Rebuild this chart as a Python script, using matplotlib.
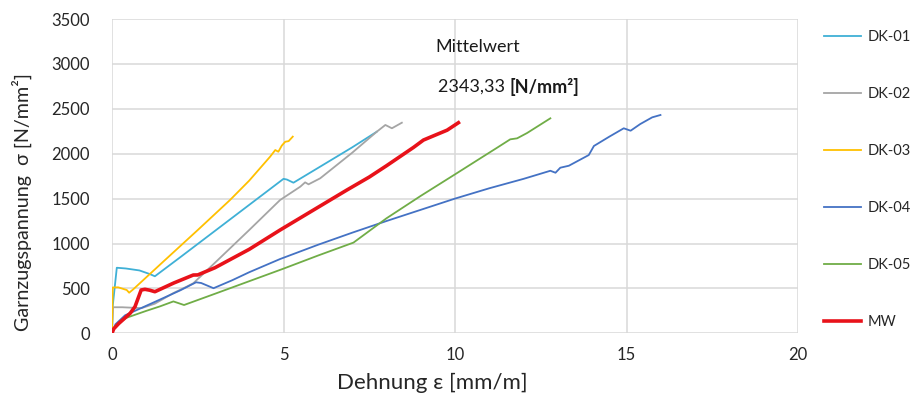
import matplotlib
matplotlib.use("Agg")
import matplotlib.pyplot as plt

plt.rcParams['font.family'] = ['Lato', 'DejaVu Sans']

dk01_x = [0, 0.02, 0.14, 0.4, 0.8, 1.1, 1.25, 2.0, 3.0, 4.0, 5.0, 5.1, 5.29, 6.0, 7.0, 7.72]
dk01_y = [0, 300, 730, 722, 700, 660, 635, 850, 1140, 1430, 1720, 1712, 1677, 1840, 2070, 2245]

dk02_x = [0, 0.03, 0.3, 0.86, 1.25, 1.8, 2.18, 2.37, 3.0, 4.0, 4.9, 5.49, 5.63, 5.73, 6.07, 7.0, 7.72, 7.97, 8.16, 8.45]
dk02_y = [0, 290, 290, 280, 330, 450, 520, 557, 785, 1150, 1484, 1633, 1681, 1659, 1726, 2010, 2245, 2320, 2283, 2345]

dk03_x = [0, 0.02, 0.18, 0.43, 0.5, 0.62, 1.5, 2.5, 3.44, 4.0, 4.61, 4.76, 4.85, 4.95, 5.05, 5.15, 5.27]
dk03_y = [0, 510, 512, 482, 452, 490, 800, 1150, 1484, 1700, 1967, 2041, 2022, 2090, 2133, 2140, 2190]

dk04_x = [0, 0.1, 0.38, 1.25, 2.0, 2.45, 2.6, 2.96, 3.5, 4.0, 4.9, 6.0, 7.0, 8.0, 9.0, 10.0, 11.0, 12.0, 12.78, 12.93,
          13.07, 13.32, 13.9, 14.05, 14.5, 14.92, 15.12, 15.4, 15.75, 15.99]
dk04_y = [0, 100, 200, 350, 480, 568, 560, 502, 590, 680, 827, 985, 1120, 1250, 1375, 1500, 1615, 1720, 1810, 1788,
          1844, 1866, 1985, 2086, 2190, 2283, 2256, 2330, 2405, 2431]

dk05_x = [0, 0.1, 0.4, 1.0, 1.4, 1.79, 2.1, 3.0, 4.0, 5.0, 6.0, 7.04, 8.0, 9.0, 10.0, 10.74, 11.2, 11.61, 11.81,
          12.1, 12.78]
dk05_y = [0, 80, 170, 250, 300, 355, 315, 440, 580, 720, 865, 1010, 1280, 1530, 1770, 1949, 2060, 2160, 2171,
          2230, 2394]

mw_x = [0, 0.05, 0.2, 0.53, 0.67, 0.85, 0.96, 1.1, 1.25, 1.8, 2.37, 2.5, 3.0, 4.0, 4.9, 5.63, 6.85, 7.5, 8.0,
        8.79, 9.08, 9.38, 9.77, 10.1]
mw_y = [0, 50, 110, 223, 296, 482, 490, 480, 463, 560, 649, 650, 730, 935, 1150, 1317, 1596, 1740, 1865,
        2070, 2152, 2200, 2262, 2345]

x_ticks = [0, 5, 10, 15, 20]
y_ticks = [0, 500, 1000, 1500, 2000, 2500, 3000, 3500]

fig = plt.figure(figsize=(9.14, 3.97), dpi=100)
ax = fig.add_axes([112/914, 1-333.3/397, (798-112)/914, (333.3-19)/397])

ax.plot(dk01_x, dk01_y, color='#3FB0D6', lw=1.3, label='DK-01')
ax.plot(dk02_x, dk02_y, color='#A5A5A5', lw=1.3, label='DK-02')
ax.plot(dk03_x, dk03_y, color='#FFC000', lw=1.3, label='DK-03')
ax.plot(dk04_x, dk04_y, color='#4472C4', lw=1.3, label='DK-04')
ax.plot(dk05_x, dk05_y, color='#70AD47', lw=1.3, label='DK-05')
ax.plot(mw_x, mw_y, color='#E8121A', lw=2.6, label='MW')

ax.set_xlim(0, 20)
ax.set_ylim(0, 3500)
ax.set_xticks(x_ticks)
ax.set_yticks(y_ticks)
ax.grid(True, color='#D9D9D9', lw=1.1)
ax.set_axisbelow(True)
for s in ax.spines.values():
    s.set_visible(False)
ax.tick_params(length=0, labelsize=12, colors='#262626')
ax.tick_params(axis='y', pad=16)
ax.tick_params(axis='x', pad=10)

ax.set_xlabel('Dehnung ε [mm/m]', fontsize=16, color='#262626', va='center')
ax.xaxis.set_label_coords((432-112)/686, (333.3-383)/314.3)
ax.set_ylabel('Garnzugspannung  σ [N/mm²]', fontsize=14.2, color='#262626', va='center')
ax.yaxis.set_label_coords((22-112)/686, (333.3-202)/314.3)

ax.text(478/914, 1-46.7/397, 'Mittelwert', transform=fig.transFigure, ha='center', va='center',
        fontsize=13, color='#1a1a1a')
t1 = ax.text(438/914, 1-86.7/397, '2343,33 ', transform=fig.transFigure, ha='left', va='center',
             fontsize=13, color='#1a1a1a')
fig.canvas.draw()
bb = t1.get_window_extent()
ax.text(bb.x1/914, 1-86.7/397, '[N/mm²]', transform=fig.transFigure, ha='left', va='center',
        fontsize=13, color='#1a1a1a', fontweight='bold')

leg = fig.legend(loc='upper left', bbox_to_anchor=(824/914, 1-30/397), frameon=False,
                 fontsize=10.5, handlelength=2.55, handletextpad=0.45, labelspacing=2.95,
                 borderpad=0, borderaxespad=0)
for t in leg.get_texts():
    t.set_color('#262626')

fig.savefig('out.png', dpi=100, facecolor='white')
